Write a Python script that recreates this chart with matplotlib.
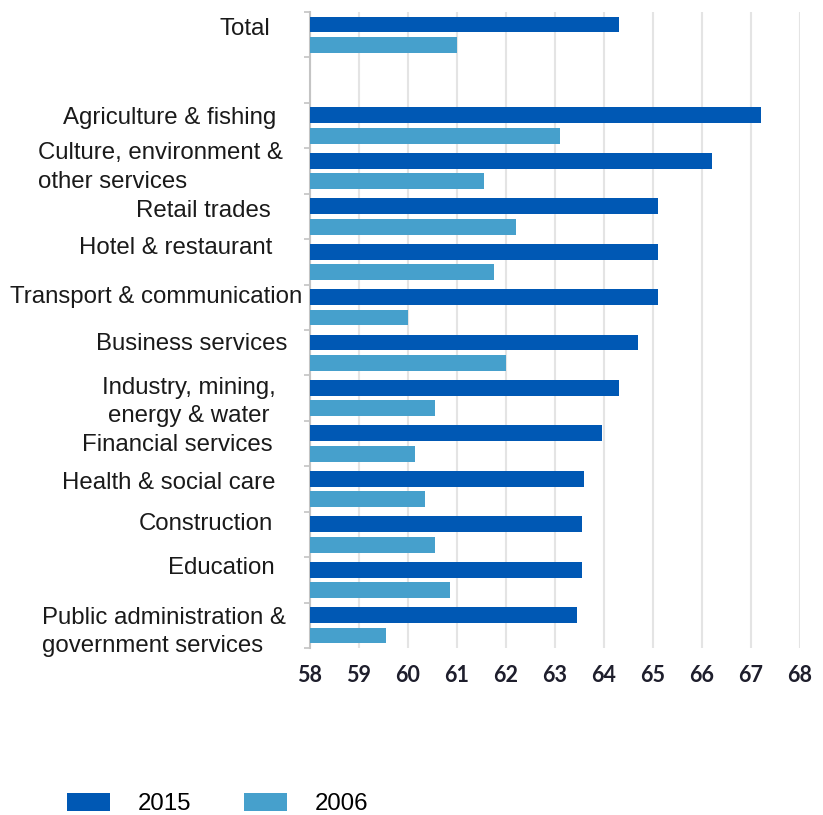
import matplotlib
matplotlib.use("Agg")
import matplotlib.pyplot as plt
import matplotlib.transforms as mtransforms
from matplotlib.patches import Patch

# ---- data ----
categories = [
    "Total",
    "Agriculture & fishing",
    "Culture, environment &\nother services",
    "Retail trades",
    "Hotel & restaurant",
    "Transport & communication",
    "Business services",
    "Industry, mining,\nenergy & water",
    "Financial services",
    "Health & social care",
    "Construction",
    "Education",
    "Public administration &\ngovernment services",
]
values_2015 = [64.3, 67.2, 66.2, 65.1, 65.1, 65.1, 64.7, 64.3, 63.95, 63.6, 63.55, 63.55, 63.45]
values_2006 = [61.0, 63.1, 61.55, 62.2, 61.75, 60.0, 62.0, 60.55, 60.15, 60.35, 60.55, 60.85, 59.55]
series_names = ["2015", "2006"]
x_ticks = list(range(58, 69))

# ---- style ----
DARK = "#0058b4"
LIGHT = "#46a0cc"
FONT = "Liberation Sans"
FS = 17.3

W, H = 823, 815
fig = plt.figure(figsize=(W / 100, H / 100), dpi=100)
ax = fig.add_axes([310 / W, 1 - 648 / H, (800 - 310) / W, (648 - 12) / H])

# slot positions: Total, one empty slot, then the 12 sectors
pos = [0] + list(range(2, 2 + len(categories) - 1))
bar_h = 0.35
off = 0.225

xmin = x_ticks[0]
ax.barh([p - off for p in pos], [v - xmin for v in values_2015], left=xmin,
        height=bar_h, color=DARK, zorder=3)
ax.barh([p + off for p in pos], [v - xmin for v in values_2006], left=xmin,
        height=bar_h, color=LIGHT, zorder=3)

ax.set_xlim(x_ticks[0], x_ticks[-1])
ax.set_ylim(len(categories) + 0.5, -0.5)
ax.set_xticks(x_ticks)
ax.set_xticklabels([str(t) for t in x_ticks], fontsize=15.5, color="#1e1e2c",
                   family="Lato", fontweight="bold")
ax.tick_params(axis="x", length=0, pad=12)
ax.grid(axis="x", color="#e4e4e4", linewidth=1.5, zorder=0)
for s in ["top", "right", "bottom"]:
    ax.spines[s].set_visible(False)
ax.spines["left"].set_color("#c4c4c4")
ax.spines["left"].set_linewidth(1.5)

# small ticks at slot boundaries
ax.set_yticks([b - 0.5 for b in range(0, len(categories) + 2)])
ax.set_yticklabels([])
ax.tick_params(axis="y", length=4, color="#c4c4c4", width=1.2)

# category labels
trans = mtransforms.blended_transform_factory(fig.transFigure, ax.transData)
label_place = [  # (x pixel, ha, dy in slots)
    (270, "right", -0.13),
    (276, "right", -0.17),
    (38, "left", -0.08),
    (271, "right", -0.13),
    (272, "right", -0.31),
    (302, "right", -0.22),
    (287, "right", -0.20),
    (189, "center", 0.09),
    (273, "right", 0.04),
    (276, "right", -0.13),
    (273, "right", -0.24),
    (275, "right", -0.26),
    (42, "left", 0.15),
]
for lab, p, (xp, ha, dy) in zip(categories, pos, label_place):
    ax.text(xp / W, p + dy, lab, transform=trans, ha=ha, va="center",
            multialignment="left" if ha == "left" else "center",
            fontsize=FS, family=FONT, color="#1a1a1a", linespacing=1.38)

# legend
handles = [Patch(facecolor=DARK), Patch(facecolor=LIGHT)]
fig.legend(handles, series_names, loc="center left",
           bbox_to_anchor=(67 / W, 1 - 804 / H), ncol=2, frameon=False,
           prop={"family": FONT, "size": FS}, handlelength=1.8,
           handleheight=0.75, handletextpad=1.15, columnspacing=2.2,
           borderpad=0, borderaxespad=0)

fig.savefig("out.png", dpi=100)
